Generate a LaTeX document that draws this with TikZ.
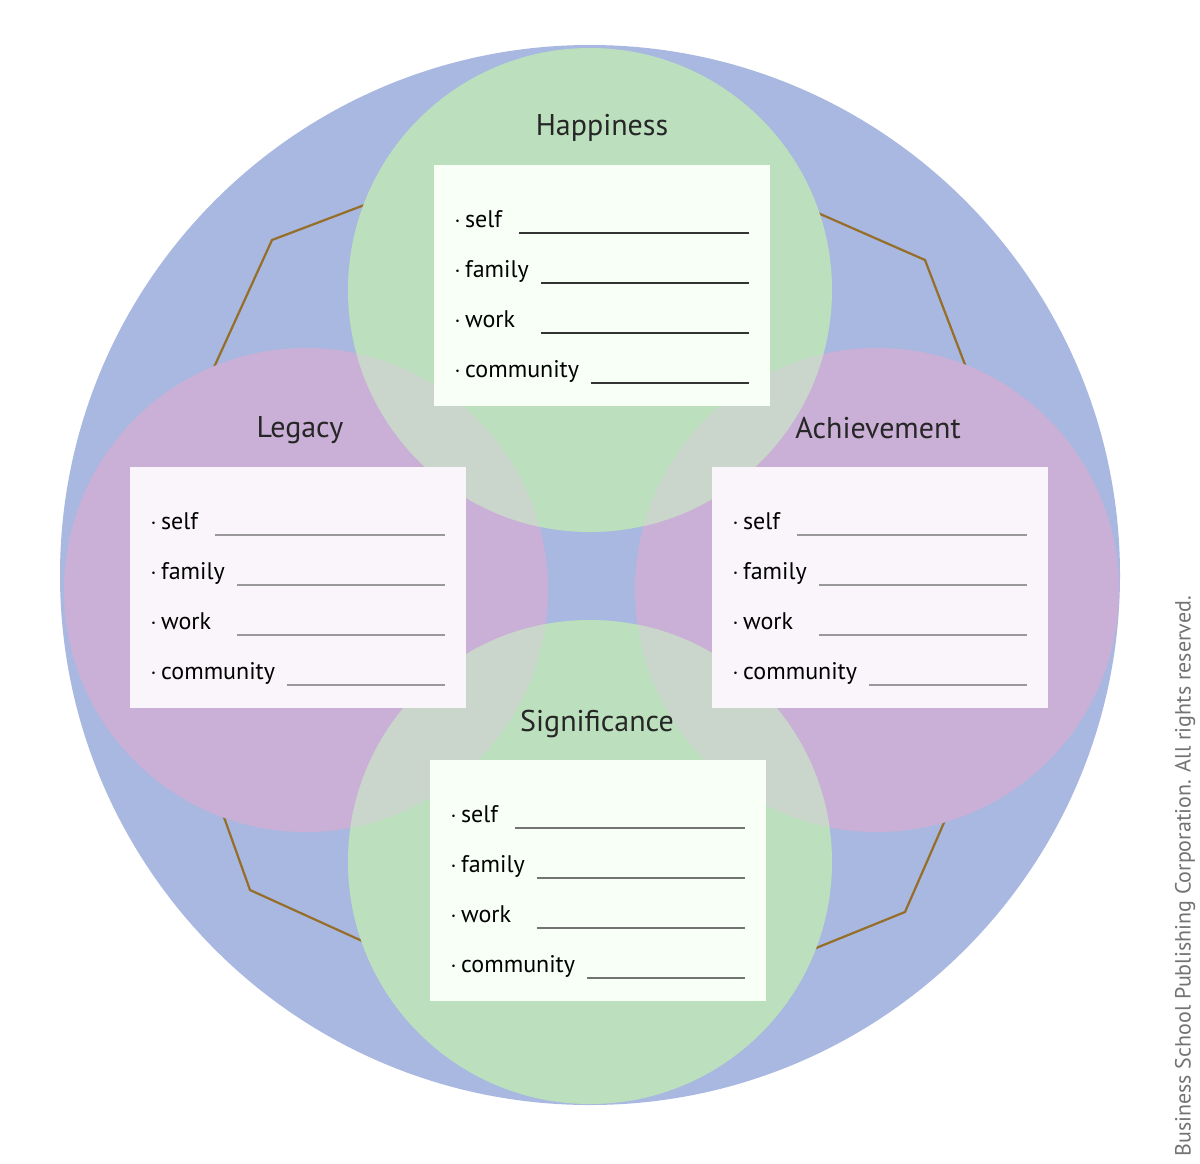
\documentclass[tikz,border=0pt]{standalone}
\usepackage{fontspec}
\setmainfont{PT Sans}
\begin{document}
\begin{tikzpicture}[x=1pt,y=-1pt,
  ttl/.style={font=\fontsize{30}{32}\selectfont, text=black!85},
  itm/.style={font=\fontsize{24}{26}\selectfont, anchor=base west, inner sep=0pt},
  bx/.style={draw=none, anchor=north west, minimum width=336pt, minimum height=241pt, inner sep=0pt}]
\definecolor{bluebg}{RGB}{168,184,224}
\definecolor{grn}{RGB}{188,224,190}
\definecolor{pnk}{RGB}{202,176,214}
\definecolor{ovl}{RGB}{202,214,204}
\definecolor{brn}{RGB}{150,110,40}
\useasboundingbox (0,0) rectangle (1200,1163);
\fill[white] (0,0) rectangle (1200,1163);
\fill[bluebg] (590,575) circle (530);
% octagon
\draw[brn,line width=2.2pt] (470,165) -- (272,240) -- (190,420);
\draw[brn,line width=2.2pt] (720,170) -- (925,260) -- (990,430);
\draw[brn,line width=2.2pt] (200,750) -- (250,890) -- (470,990);
\draw[brn,line width=2.2pt] (980,740) -- (905,912) -- (700,995);
\fill[pnk] (306,590) circle (242);
\fill[pnk] (877,590) circle (242);
\fill[grn] (590,290) circle (242);
\fill[grn] (590,862) circle (242);
\foreach \g in {(590,290),(590,862)}{
 \foreach \p in {(306,590),(877,590)}{
  \begin{scope}\clip \g circle (242); \fill[ovl] \p circle (242);\end{scope}
 }}
\node[bx,fill=green!3!white] (bt) at (434,165) {};
\node[bx,fill=violet!4!white] (bl) at (130,467) {};
\node[bx,fill=violet!4!white] (br) at (712,467) {};
\node[bx,fill=green!3!white] (bb) at (430,760) {};
\node[ttl] (tt) at (602,128) {Happiness};
\node[ttl] (tl) at (300,430) {Legacy};
\node[ttl] (tr) at (878,428) {Achievement};
\node[ttl] (tb) at (597,724) {Significance};
\foreach \b/\lc in {bt/black!80,bl/black!40,br/black!40,bb/black!55}{
  \foreach \t/\s/\k in {self/85/0,family/107/1,work/107/2,community/157/3}{
    \node[itm] at ([xshift=20pt,yshift=-(62+50*\k)]\b.north west) {$\cdot$\,\t};
    \draw[\lc,line width=1.6pt] ([xshift=\s pt,yshift=-(68+50*\k)]\b.north west) -- ++(315-\s,0);
  }}
\node[rotate=90,anchor=west,text=black!55,font=\fontsize{22}{24}\selectfont] (cp) at (1185,1160) {Business School Publishing Corporation. All rights reserved.};
\end{tikzpicture}
\end{document}
